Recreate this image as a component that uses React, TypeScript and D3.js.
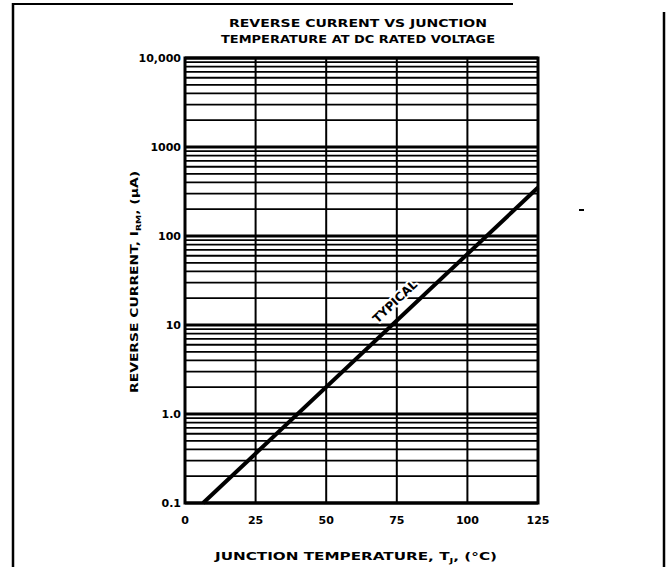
import React from "react";
import * as d3 from "d3";

const titleLines = ["REVERSE CURRENT VS JUNCTION", "TEMPERATURE AT DC RATED VOLTAGE"];
const xTicks = [0, 25, 50, 75, 100, 125];
const xTickLabels = ["0", "25", "50", "75", "100", "125"];
const yTicks = [0.1, 1, 10, 100, 1000, 10000];
const yTickLabels = ["0.1", "1.0", "10", "100", "1000", "10,000"];
const typicalTemp = [6.4, 125];
const typicalCurrent = [0.1, 350];
const curveLabel = "TYPICAL";

const W = 667;
const H = 567;
const FONT = "'DejaVu Sans', 'Liberation Sans', Arial, sans-serif";

export default function App() {
  const left = 185, right = 538, top = 58, bottom = 503;
  const x = d3.scaleLinear().domain([0, 125]).range([left, right]);
  const y = d3.scaleLog().domain([0.1, 10000]).range([bottom, top]);

  const minor = y.ticks().filter((v) => !yTicks.some((t) => Math.abs(t - v) / t < 1e-6));

  const pts: [number, number][] = typicalTemp.map((t, i) => [x(t), y(typicalCurrent[i])]);
  const line = d3.line()(pts) || "";

  const dx = pts[1][0] - pts[0][0];
  const dy = pts[1][1] - pts[0][1];
  const ang = (Math.atan2(dy, dx) * 180) / Math.PI;
  const len = Math.hypot(dx, dy);
  const nx = dy / len, ny = -dx / len;
  const tLab = 78;
  const frac = (tLab - typicalTemp[0]) / (typicalTemp[1] - typicalTemp[0]);
  const lx0 = pts[0][0] + dx * frac;
  const ly0 = pts[0][1] + dy * frac;
  const off = 11;
  const lx = lx0 + (nx < 0 ? nx : -nx) * off;
  const ly = ly0 + (ny < 0 ? ny : -ny) * off;

  return (
    <svg width={W} height={H} style={{ position: "absolute", left: 0, top: 0, background: "#fff" }} fontFamily={FONT}>
      <rect x={0} y={0} width={W} height={H} fill="#fff" />
      {/* outer frame */}
      <line x1={13} y1={4} x2={513} y2={4} stroke="#000" strokeWidth={2} />
      <line x1={13} y1={3} x2={13} y2={H} stroke="#000" strokeWidth={2.5} />
      <line x1={664} y1={12} x2={664} y2={H} stroke="#000" strokeWidth={2.5} />
      <rect x={579} y={209} width={5} height={2} fill="#000" />

      {/* title */}
      {titleLines.map((t, i) => (
        <text key={t} x={358} y={27 + i * 16} textAnchor="middle" fontSize={10.5} fontWeight="bold"
          textLength={i === 0 ? 258 : 274} lengthAdjust="spacingAndGlyphs">{t}</text>
      ))}

      {/* minor horizontal grid */}
      {minor.map((v) => (
        <line key={"m" + v} x1={left} x2={right} y1={y(v)} y2={y(v)} stroke="#000" strokeWidth={1.8} />
      ))}
      {/* decade lines */}
      {yTicks.map((v) => (
        <line key={"d" + v} x1={left} x2={right} y1={y(v)} y2={y(v)} stroke="#000" strokeWidth={3.2} />
      ))}
      {/* vertical grid */}
      {xTicks.map((t) => (
        <line key={"v" + t} x1={x(t)} x2={x(t)} y1={top} y2={bottom} stroke="#000" strokeWidth={2} />
      ))}
      {/* border */}
      <rect x={left} y={top} width={right - left} height={bottom - top} fill="none" stroke="#000" strokeWidth={3} />

      {/* curve */}
      <path d={line} stroke="#000" strokeWidth={4} fill="none" />
      <text x={lx} y={ly} textAnchor="middle" fontSize={12} fontWeight="bold"
        stroke="#fff" strokeWidth={4} strokeLinejoin="round" style={{ paintOrder: "stroke" }}
        transform={`rotate(${ang} ${lx} ${ly})`}>{curveLabel}</text>

      {/* y tick labels */}
      {yTicks.map((v, i) => (
        <text key={"yl" + v} x={181} y={y(v) + 3.5} textAnchor="end" fontSize={11} fontWeight="bold">{yTickLabels[i]}</text>
      ))}
      {/* x tick labels */}
      {xTicks.map((t, i) => (
        <text key={"xl" + t} x={x(t)} y={524} textAnchor="middle" fontSize={11} fontWeight="bold">{xTickLabels[i]}</text>
      ))}

      {/* x axis title */}
      <text x={356} y={560} textAnchor="middle" fontSize={10.5} fontWeight="bold" textLength={282} lengthAdjust="spacingAndGlyphs">
        JUNCTION  TEMPERATURE, T<tspan dy={3} fontSize={7}>J</tspan><tspan dy={-3}>, (°C)</tspan>
      </text>
      {/* y axis title */}
      <text transform="translate(138 282) rotate(-90)" textAnchor="middle" fontSize={10.5} fontWeight="bold" textLength={222} lengthAdjust="spacingAndGlyphs">
        REVERSE CURRENT, I<tspan dy={3} fontSize={7}>RM</tspan><tspan dy={-3}>, (µA)</tspan>
      </text>
    </svg>
  );
}
